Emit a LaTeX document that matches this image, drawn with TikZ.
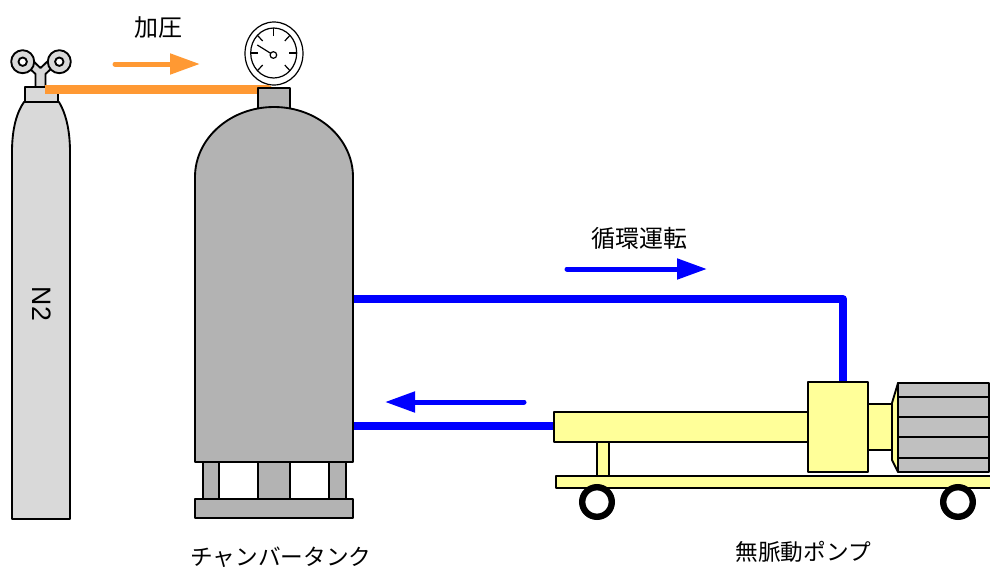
\documentclass[tikz,border=0pt]{standalone}
\usepackage{fontspec}
\setmainfont{Liberation Sans}
\newfontfamily\jpfont{Noto Sans CJK JP}
\usetikzlibrary{arrows.meta}

\definecolor{gasgray}{HTML}{D9D9D9}
\definecolor{tankgray}{HTML}{B3B3B3}
\definecolor{motorgray}{HTML}{C0C0C0}
\definecolor{pumpyellow}{HTML}{FFFF99}
\definecolor{pipeorange}{HTML}{FF9933}
\definecolor{pipeblue}{HTML}{0000FF}

\begin{document}
\begin{tikzpicture}[x=0.75pt,y=-0.75pt,
  outline/.style={draw=black,line width=1.4pt,line join=round},
  gaspart/.style={outline,fill=gasgray},
  tankpart/.style={outline,fill=tankgray},
  pumppart/.style={outline,fill=pumpyellow},
  motorpart/.style={outline,fill=motorgray},
  gaugeline/.style={draw=black,line width=0.9pt},
  bluepipe/.style={draw=pipeblue,line width=6pt,line join=round},
  orangepipe/.style={draw=pipeorange,line width=6.75pt},
  flowarrow/.style={line width=3.75pt,line cap=round,
    -{Triangle[length=22.5pt,width=15pt]}},
  jplabel/.style={font=\jpfont\fontsize{17}{20}\selectfont,inner sep=0pt},
  jpbig/.style={font=\jpfont\fontsize{18}{21}\selectfont,inner sep=0pt},
  wheel/.style={draw=black,line width=4.8pt,fill=white}]
\useasboundingbox (0,0) rectangle (990,572);
\clip (0,0) rectangle (990,572);

% ---------- circulation piping (behind the vessels) ----------
\coordinate (outTank) at (353,299);
\coordinate (bend)    at (843,299);
\coordinate (pumpTop) at (843,384);
\coordinate (retTank) at (353,426);
\coordinate (pumpIn)  at (556,426);
\draw[bluepipe] (outTank) -- (bend) -- (pumpTop);
\draw[bluepipe] (pumpIn) -- (retTank);

% ---------- nitrogen cylinder ----------
\draw[gaspart] (12,519) -- (12,152)
  .. controls (12,128) and (17,112) .. (24,102) -- (59,102)
  .. controls (65,112) and (70,128) .. (70,152) -- (70,519) -- cycle;
\node[rotate=-90,font=\fontsize{20}{22}\selectfont,inner sep=0pt] (n2) at (42,304) {N2};
% valve yoke and handwheels
\draw[gaspart] (35.5,88) -- (35.5,74) -- (27,66) -- (31,59) -- (40.5,68)
  -- (50,59) -- (54,66) -- (45.5,74) -- (45.5,88);
\draw[gaspart] (22.7,61.7) circle[radius=11.5];
\draw[gaspart] (59.3,61.7) circle[radius=11.5];
\draw[outline,fill=white] (22.7,61.7) circle[radius=4.2];
\draw[outline,fill=white] (59.3,61.7) circle[radius=4.2];
\draw[gaspart] (25,87) rectangle (58,102);

% ---------- pressurising line ----------
\coordinate (gasOut) at (45,89.5);
\coordinate (gasIn)  at (268,89.5);
\draw[orangepipe,line cap=butt] (gasOut) -- ++(200,0);
\draw[orangepipe,line cap=round] (gasOut) ++(190,0) -- (gasIn);

% ---------- pressure gauge ----------
\draw[gaugeline,fill=white] (274,53.5) ellipse[x radius=29,y radius=31.5];
\draw[gaugeline,fill=white] (273.7,53) ellipse[x radius=23,y radius=25];
\foreach \a in {90,45,0,-45,-135,180,135}
  \draw[gaugeline] ({273.7+0.68*23*cos(\a)},{53-0.68*25*sin(\a)})
    -- ({273.7+23*cos(\a)},{53-25*sin(\a)});
\draw[gaugeline] (273.4,55) -- (257.3,45);
\draw[gaugeline,fill=white] (273.4,55) circle[radius=3.3];

% ---------- chamber tank ----------
\draw[tankpart] (258,88) rectangle (290,109);
\draw[tankpart] (195,462) -- (195,177)
  arc[start angle=180,end angle=360,x radius=79,y radius=70]
  -- (353,462) -- cycle;
\draw[tankpart] (203,462) rectangle (219,499);
\draw[tankpart] (258,462) rectangle (290,499);
\draw[tankpart] (329,462) rectangle (346,499);
\draw[tankpart] (195,499) rectangle (353,518);

% ---------- mohno pump on its cart ----------
\draw[pumppart] (597,442) rectangle (609,476);
\draw[pumppart] (556,476) rectangle (995,488);
\draw[pumppart] (554,412) rectangle (808,442);
\draw[pumppart] (808,382) rectangle (868,472);
\draw[pumppart] (868,404) rectangle (892,450);
\draw[pumppart] (892,403) -- (898,383) -- (898,472) -- (892,460) -- cycle;
\draw[motorpart] (898,383) rectangle (989,472);
\foreach \yy in {397,417,437,458}
  \draw[outline] (898,\yy) -- (989,\yy);
\draw[wheel] (597,502) circle[radius=14.8];
\draw[wheel] (958,502) circle[radius=14.8];

% ---------- flow arrows ----------
\coordinate (pA) at (115,64);  \coordinate (pB) at (200,64);
\coordinate (fA) at (567,269); \coordinate (fB) at (707,269);
\coordinate (rA) at (524,402); \coordinate (rB) at (385,402);
\draw[flowarrow,draw=pipeorange,fill=pipeorange] (pA) -- (pB);
\draw[flowarrow,draw=pipeblue,fill=pipeblue] (fA) -- (fB);
\draw[flowarrow,draw=pipeblue,fill=pipeblue] (rA) -- (rB);

% ---------- labels ----------
\node[jpbig]   (press) at (158,28) {加圧};
\node[jpbig]   (circ)  at (639,238) {循環運転};
\node[jplabel] (tank)  at (281,557) {チャンバータンク};
\node[jplabel] (pump)  at (803,552) {無脈動ポンプ};
\end{tikzpicture}
\end{document}
